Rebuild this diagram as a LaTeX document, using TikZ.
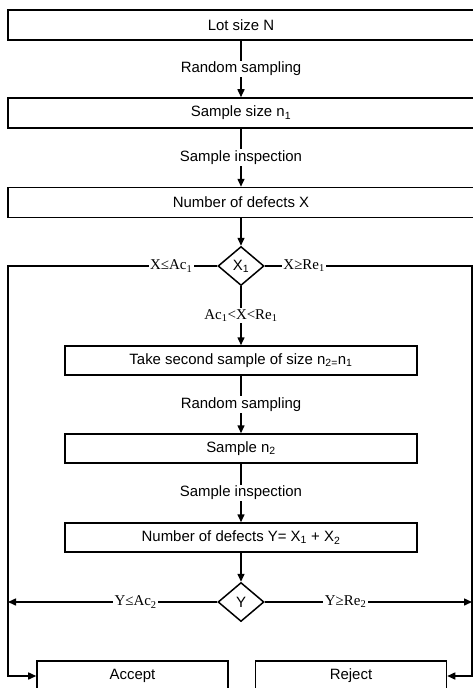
\documentclass[tikz,border=0pt]{standalone}
\usepackage{fontspec}
\setmainfont{Liberation Sans}
\newfontfamily\lblserif{Liberation Serif}
\usetikzlibrary{arrows.meta,shapes.geometric}

\begin{document}
\begin{tikzpicture}[x=1bp,y=-1bp,line width=1.5bp,
   txt/.style={font=\fontsize{15}{18}\selectfont},
   bigbox/.style={draw,rectangle,txt,minimum width=466bp,minimum height=30bp,inner sep=0pt},
   midbox/.style={draw,rectangle,txt,minimum width=352bp,minimum height=29bp,inner sep=0pt},
   endbox/.style={draw,rectangle,txt,minimum width=191bp,minimum height=30bp,inner sep=0pt},
   test/.style={draw,diamond,txt,inner sep=0pt,minimum width=46bp,minimum height=39bp},
   flow/.style={-{Triangle[length=8bp,width=7bp]}},
   onl/.style={fill=white,inner sep=1.5bp,txt},
   cond/.style={fill=white,inner sep=1.5bp,font=\lblserif\fontsize{15}{17}\selectfont}]
   \useasboundingbox (0,0) rectangle (473,688);

   % first sample
   \node[bigbox] (lot) at (241,25) {Lot size N};
   \node[bigbox] (ss1) at (241,113) {Sample size n\textsubscript{1}};
   \node[bigbox] (nd1) at (241,202.5) {Number of defects X};
   \node[test] (dx) at (241,266) {X\textsubscript{1}};

   % second sample
   \node[midbox] (take) at (241,360.5) {Take second sample of size n\textsubscript{2=}n\textsubscript{1}};
   \node[midbox] (ss2) at (241,448.5) {Sample n\textsubscript{2}};
   \node[midbox] (nd2) at (241,537.5) {Number of defects Y= X\textsubscript{1} + X\textsubscript{2}};
   \node[test] (dy) at (241,602) {Y};

   \node[endbox] (acc) at (132.5,676) {Accept};
   \node[endbox] (rej) at (351,676) {Reject};

   \coordinate (xl) at (8,266);
   \coordinate (xr) at (472,266);
   \coordinate (yl) at (8,602);
   \coordinate (yr) at (472,602);

   \draw[flow] (lot) -- node[onl] {Random sampling} (ss1);
   \draw[flow] (ss1) -- node[onl] {Sample inspection} (nd1);
   \draw[flow] (nd1) -- (dx);
   \draw[flow] (dx) -- node[cond] {Ac\textsubscript{1}<X<Re\textsubscript{1}} (take);
   \draw[flow] (dx.west) -- node[cond,pos=0.22] {X≤Ac\textsubscript{1}} (xl) |- (acc.west);
   \draw[flow] (dx.east) -- node[cond,pos=0.19] {X≥Re\textsubscript{1}} (xr) |- (rej.east);

   \draw[flow] (take) -- node[onl] {Random sampling} (ss2);
   \draw[flow] (ss2) -- node[onl] {Sample inspection} (nd2);
   \draw[flow] (nd2) -- (dy);
   \draw[flow] (dy.west) -- node[cond,pos=0.39] {Y≤Ac\textsubscript{2}} (yl);
   \draw[flow] (dy.east) -- node[cond,pos=0.39] {Y≥Re\textsubscript{2}} (yr);
\end{tikzpicture}
\end{document}
